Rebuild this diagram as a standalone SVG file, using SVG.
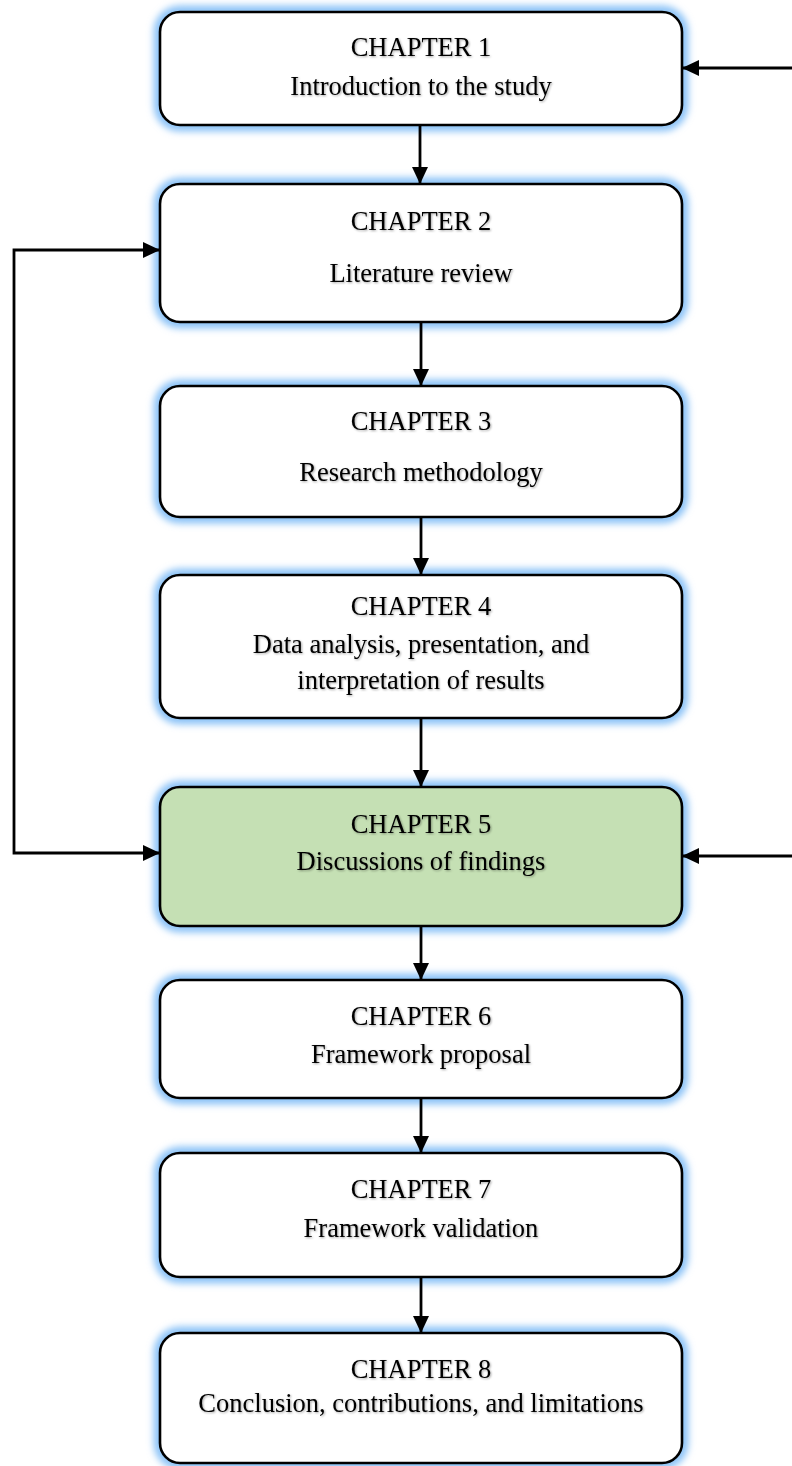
<svg xmlns="http://www.w3.org/2000/svg" width="792" height="1466" viewBox="0 0 792 1466">
  <defs>
    <filter id="glow" x="-10%" y="-20%" width="120%" height="140%">
      <feGaussianBlur stdDeviation="3.5"/>
    </filter>
    <filter id="txtShadow" x="-5%" y="-30%" width="110%" height="160%">
      <feDropShadow dx="1" dy="1" stdDeviation="0.8" flood-color="#000" flood-opacity="0.35"/>
    </filter>
    <marker id="arrow" viewBox="0 0 17 16" refX="17" refY="8" markerWidth="17" markerHeight="16" markerUnits="userSpaceOnUse" orient="auto">
      <path d="M0,0 L17,8 L0,16 Z" fill="#000"/>
    </marker>
  </defs>
  <style>
    .halo { fill: none; stroke: #8cc3f7; stroke-width: 13; filter: url(#glow); }
    .box { fill: #ffffff; stroke: #000; stroke-width: 2.6; }
    .green { fill: #c5e0b4; }
    .label { font-family: "Liberation Serif", "Times New Roman", serif; font-size: 26.5px; fill: #000; text-anchor: middle; filter: url(#txtShadow); }
    .conn { fill: none; stroke: #000; stroke-width: 2.8; }
    .arr { marker-end: url(#arrow); }
  </style>

  <rect width="792" height="1466" fill="#ffffff"/>

  <!-- chapter boxes -->
  <g id="ch1">
    <rect class="halo" x="160" y="12" width="522" height="113" rx="20"/>
    <rect class="box" x="160" y="12" width="522" height="113" rx="20"/>
    <text class="label" x="421" y="56">CHAPTER 1</text>
    <text class="label" x="421" y="95">Introduction to the study</text>
  </g>
  <g id="ch2">
    <rect class="halo" x="160" y="184" width="522" height="138" rx="20"/>
    <rect class="box" x="160" y="184" width="522" height="138" rx="20"/>
    <text class="label" x="421" y="230">CHAPTER 2</text>
    <text class="label" x="421" y="282">Literature review</text>
  </g>
  <g id="ch3">
    <rect class="halo" x="160" y="386" width="522" height="131" rx="20"/>
    <rect class="box" x="160" y="386" width="522" height="131" rx="20"/>
    <text class="label" x="421" y="430">CHAPTER 3</text>
    <text class="label" x="421" y="481">Research methodology</text>
  </g>
  <g id="ch4">
    <rect class="halo" x="160" y="575" width="522" height="143" rx="20"/>
    <rect class="box" x="160" y="575" width="522" height="143" rx="20"/>
    <text class="label" x="421" y="615">CHAPTER 4</text>
    <text class="label" x="421" y="653">Data analysis, presentation, and</text>
    <text class="label" x="421" y="689">interpretation of results</text>
  </g>
  <g id="ch5">
    <rect class="halo" x="160" y="787" width="522" height="139" rx="20"/>
    <rect class="box green" x="160" y="787" width="522" height="139" rx="20"/>
    <text class="label" x="421" y="833">CHAPTER 5</text>
    <text class="label" x="421" y="870">Discussions of findings</text>
  </g>
  <g id="ch6">
    <rect class="halo" x="160" y="980" width="522" height="118" rx="20"/>
    <rect class="box" x="160" y="980" width="522" height="118" rx="20"/>
    <text class="label" x="421" y="1025">CHAPTER 6</text>
    <text class="label" x="421" y="1063">Framework proposal</text>
  </g>
  <g id="ch7">
    <rect class="halo" x="160" y="1153" width="522" height="124" rx="20"/>
    <rect class="box" x="160" y="1153" width="522" height="124" rx="20"/>
    <text class="label" x="421" y="1198">CHAPTER 7</text>
    <text class="label" x="421" y="1237">Framework validation</text>
  </g>
  <g id="ch8">
    <rect class="halo" x="160" y="1333" width="522" height="130" rx="20"/>
    <rect class="box" x="160" y="1333" width="522" height="130" rx="20"/>
    <text class="label" x="421" y="1378">CHAPTER 8</text>
    <text class="label" x="421" y="1412">Conclusion, contributions, and limitations</text>
  </g>

  <!-- connectors -->
  <g id="connectors">
    <path class="conn arr" d="M420,125 L420,184"/>
    <path class="conn arr" d="M421,322 L421,386"/>
    <path class="conn arr" d="M421,517 L421,575"/>
    <path class="conn arr" d="M421,718 L421,787"/>
    <path class="conn arr" d="M421,926 L421,980"/>
    <path class="conn arr" d="M421,1098 L421,1153"/>
    <path class="conn arr" d="M421,1277 L421,1333"/>
    <path class="conn arr" d="M792,68 L682,68"/>
    <path class="conn arr" d="M792,856 L682,856"/>
    <path class="conn arr" d="M14,550 L14,250 L160,250"/>
    <path class="conn arr" d="M14,550 L14,853 L160,853"/>
  </g>
</svg>
